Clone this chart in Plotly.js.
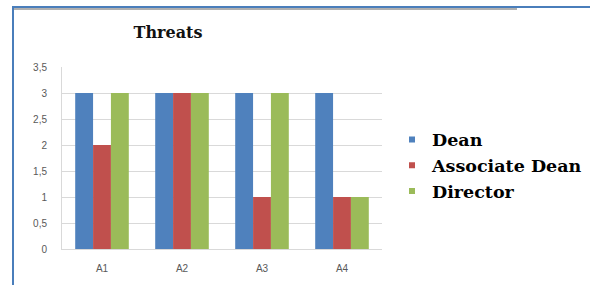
<!DOCTYPE html>
<html><head><meta charset="utf-8">
<script src="https://cdn.plot.ly/plotly-3.0.1.min.js"></script>
<style>
html,body{margin:0;padding:0;background:#fff;}
#wrap{position:relative;width:590px;height:285px;}
#chart{position:absolute;left:0;top:0;width:590px;height:285px;}
#frame{position:absolute;left:12px;top:6px;width:578px;height:279px;border-top:2px solid #4a7ebb;border-left:2px solid #4a7ebb;box-sizing:border-box;pointer-events:none;}
#shadow{position:absolute;left:14px;top:8px;width:503px;height:2px;background:#b0b0b0;pointer-events:none;}
</style>
</head><body>
<div id="wrap"><div id="chart"></div><div id="frame"></div><div id="shadow"></div></div>
<script>
const categories = ["A1","A2","A3","A4"];
const seriesNames = ["Dean","Associate Dean","Director"];
const dean = [3,3,3,3];
const associateDean = [2,3,1,1];
const director = [3,3,3,1];
const yTickVals = [0,0.5,1,1.5,2,2.5,3,3.5];
const yTickText = ["0","0,5","1","1,5","2","2,5","3","3,5"];
const colors = ["#4f81bd","#c0504d","#9bbb59"];
const values = [dean, associateDean, director];

const traces = [];
values.forEach((v,i)=>{
  traces.push({type:"bar", name:seriesNames[i], x:categories, y:v, marker:{color:colors[i]}, showlegend:false});
});
// legend-only entries with small square symbols
seriesNames.forEach((n,i)=>{
  traces.push({type:"scatter", mode:"markers", name:"<b>"+n+"</b>", x:[null], y:[null],
    marker:{symbol:"square", size:6, color:colors[i]}, showlegend:true});
});
const tickFont = {family:"Liberation Sans, Arial, sans-serif", size:10, color:"#595959"};
const layout = {
  width:590, height:285,
  margin:{l:62, r:208, t:67, b:36, autoexpand:false},
  paper_bgcolor:"#fff", plot_bgcolor:"#fff",
  barmode:"group", bargap:0.33, bargroupgap:0,
  title:{text:"<b>Threats</b>", x:168/590, xanchor:"center", y:1-32/285, yanchor:"middle",
         font:{family:"DejaVu Serif, serif", size:16, color:"#111"}},
  xaxis:{showgrid:false, showline:true, linecolor:"#d9d9d9", ticks:"", ticklabelstandoff:10,
         tickfont:tickFont},
  yaxis:{range:[0,3.5], tickvals:yTickVals, ticktext:yTickText, showgrid:true, gridcolor:"#d9d9d9",
         showline:true, linecolor:"#d9d9d9", zeroline:false, ticks:"", ticklabelstandoff:12,
         tickfont:tickFont},
  legend:{x:(392-62)/320, xanchor:"left", y:0.70, yanchor:"top", tracegroupgap:0,
          font:{family:"DejaVu Serif, serif", size:17.5, color:"#000"},
          itemwidth:30},
  showlegend:true
};
Plotly.newPlot("chart", traces, layout, {displayModeBar:false, staticPlot:true});
</script>
</body></html>
